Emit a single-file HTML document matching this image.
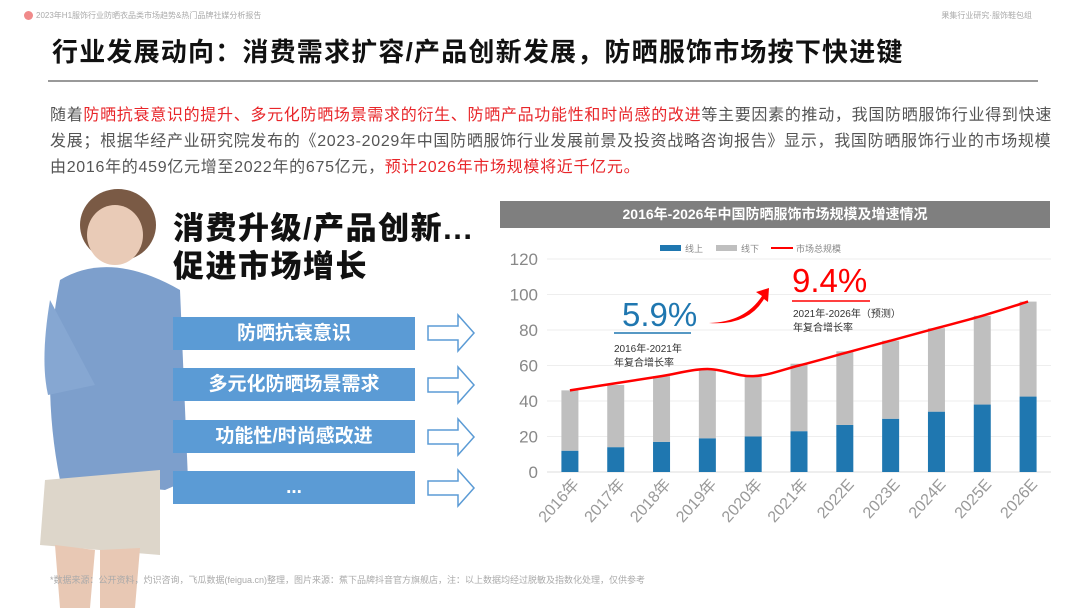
<!DOCTYPE html>
<html><head><meta charset="utf-8"><style>
body{margin:0;width:1080px;height:608px;background:#fff;position:relative;overflow:hidden;font-family:"Liberation Sans","Noto Sans CJK SC",sans-serif}
.abs{position:absolute}
.box{position:absolute;left:173px;width:242px;height:33px;background:#5b9bd5;color:#fff;font-weight:bold;font-size:19px;text-align:center;line-height:33px}
.red{color:#e8262a}
</style></head><body>
<div class="abs" style="left:24px;top:11px;width:9px;height:9px;border-radius:50%;background:#f08a8a"></div>
<div class="abs" style="left:36px;top:10px;font-size:8px;color:#aaa">2023年H1服饰行业防晒衣品类市场趋势&amp;热门品牌社媒分析报告</div>
<div class="abs" style="right:48px;top:10px;font-size:8px;color:#aaa">果集行业研究·服饰鞋包组</div>
<div class="abs" style="left:52px;top:32px;font-size:26px;letter-spacing:1.2px;font-weight:bold;color:#111;white-space:nowrap">行业发展动向：消费需求扩容/产品创新发展，防晒服饰市场按下快进键</div>
<div class="abs" style="left:48px;top:80px;width:990px;height:2px;background:#999"></div>
<div class="abs" style="left:50px;top:103px;font-size:16px;letter-spacing:0.7px;line-height:26px;color:#555;white-space:nowrap">随着<span class="red">防晒抗衰意识的提升、多元化防晒场景需求的衍生、防晒产品功能性和时尚感的改进</span>等主要因素的推动，我国防晒服饰行业得到快速<br>发展；根据华经产业研究院发布的《2023-2029年中国防晒服饰行业发展前景及投资战略咨询报告》显示，我国防晒服饰行业的市场规模<br>由2016年的459亿元增至2022年的675亿元，<span class="red">预计2026年市场规模将近千亿元。</span></div>

<svg class="abs" style="left:0;top:180px" width="200" height="428">
<ellipse cx="118" cy="45" rx="38" ry="36" fill="#7a5a45"/>
<ellipse cx="115" cy="55" rx="28" ry="30" fill="#e9cbb7"/>
<path d="M60 100 Q110 70 180 110 L188 300 L165 310 L60 300 Q40 200 60 100Z" fill="#7d9fcc"/>
<path d="M50 120 Q40 180 48 215 L95 205 Z" fill="#86a7d2"/>
<path d="M45 300 L160 290 L160 375 L40 365Z" fill="#ddd6ca"/>
<path d="M55 365 L95 370 L90 428 L60 428Z" fill="#e8c8b4"/>
<path d="M100 370 L140 368 L135 428 L100 428Z" fill="#e8c8b4"/>
</svg>
<div class="abs" style="left:173px;top:210px;font-size:31px;letter-spacing:1.5px;font-weight:900;line-height:38px;color:#111;white-space:nowrap">消费升级/产品创新...<br>促进市场增长</div>
<div class="box" style="top:317px">防晒抗衰意识</div>
<div class="box" style="top:368px">多元化防晒场景需求</div>
<div class="box" style="top:420px">功能性/时尚感改进</div>
<div class="box" style="top:471px">...</div>
<svg class="abs" style="left:426px;top:310px" width="52" height="200">
<g fill="#fff" stroke="#5b9bd5" stroke-width="1.5">
<path d="M2 16 L32 16 L32 5 L48 23 L32 41 L32 30 L2 30Z"/>
<path d="M2 68 L32 68 L32 57 L48 75 L32 93 L32 82 L2 82Z"/>
<path d="M2 120 L32 120 L32 109 L48 127 L32 145 L32 134 L2 134Z"/>
<path d="M2 171 L32 171 L32 160 L48 178 L32 196 L32 185 L2 185Z"/>
</g></svg>
<div class="abs" style="left:50px;top:573px;font-size:9px;color:#aaa">*数据来源：公开资料，灼识咨询，飞瓜数据(feigua.cn)整理，图片来源：蕉下品牌抖音官方旗舰店，注：以上数据均经过脱敏及指数化处理，仅供参考</div>

<div class="abs" style="left:500px;top:201px;width:550px;height:27px;background:#7f7f7f;color:#fff;font-weight:bold;font-size:14px;line-height:27px;text-align:center">2016年-2026年中国防晒服饰市场规模及增速情况</div>
<svg id="chart" class="abs" style="left:0;top:0" width="1080" height="608"></svg>
<script>
const categories=["2016年","2017年","2018年","2019年","2020年","2021年","2022E","2023E","2024E","2025E","2026E"];
const online=[12,14,17,19,20,23,26.5,30,34,38,42.5];
const offline=[34,35,37,39,34,38,41.5,44,47,50,53.5];
const total=[46,50,54,58,54,60,67,74,81,88,96];
const yTicks=[0,20,40,60,80,100,120];
const NS="http://www.w3.org/2000/svg";
const svg=document.getElementById('chart');
const x0=547,x1=1051,yb=472,yt=259;
const step=(x1-x0)/categories.length;
const xc=i=>x0+step*(i+0.5);
const y=v=>yb-(v/120)*(yb-yt);
function mk(t,a){const e=document.createElementNS(NS,t);for(const k in a)e.setAttribute(k,a[k]);svg.appendChild(e);return e;}
yTicks.forEach(v=>{
 const g=mk('line',{x1:x0,x2:x1,y1:y(v),y2:y(v),stroke:v?'#eee':'#ddd'});
 
 
 const t=mk('text',{x:538,y:y(v)+6,'text-anchor':'end','font-size':17,fill:'#888'});
 t.textContent=v;
 
 
});
categories.forEach((c,i)=>{
 const bw=17;
 const r1=mk('rect',{x:xc(i)-bw/2,y:y(online[i]),width:bw,height:yb-y(online[i]),fill:'#1f77b0'});
 
 
 const r2=mk('rect',{x:xc(i)-bw/2,y:y(online[i]+offline[i]),width:bw,height:y(online[i])-y(online[i]+offline[i]),fill:'#bfbfbf'});
 
 
 const t=mk('text',{transform:`translate(${xc(i)+10},${485}) rotate(-48)`,'text-anchor':'end','font-size':16,fill:'#999'});
 t.textContent=c;
 
 
});
let d='M'+xc(0)+' '+y(total[0]);
for(let i=1;i<total.length;i++){
 const p0=[xc(Math.max(i-2,0)),y(total[Math.max(i-2,0)])],p1=[xc(i-1),y(total[i-1])],p2=[xc(i),y(total[i])],p3=[xc(Math.min(i+1,total.length-1)),y(total[Math.min(i+1,total.length-1)])];
 const c1=[p1[0]+(p2[0]-p0[0])/6,p1[1]+(p2[1]-p0[1])/6],c2=[p2[0]-(p3[0]-p1[0])/6,p2[1]-(p3[1]-p1[1])/6];
 d+=` C${c1[0]} ${c1[1]} ${c2[0]} ${c2[1]} ${p2[0]} ${p2[1]}`;
}
const ln=mk('path',{d:d,fill:'none',stroke:'#ff0000','stroke-width':2.5,'stroke-linejoin':'round'});


const lg=[['#1f77b0','线上',660],['#bfbfbf','线下',716]];
lg.forEach(l=>{const r=mk('rect',{x:l[2],y:245,width:21,height:6,fill:l[0]});
const t=mk('text',{x:l[2]+25,y:252,'font-size':9,fill:'#888'});t.textContent=l[1];});
const ll=mk('line',{x1:771,x2:793,y1:248,y2:248,stroke:'red','stroke-width':2});
const lt=mk('text',{x:796,y:252,'font-size':9,fill:'#888'});lt.textContent='市场总规模';
function txt(s,a,n){const t=mk('text',a);t.textContent=s;return t;}
txt('5.9%',{x:622,y:326,'font-size':33,fill:'#1f77b0'},'cagr-2016-2021');
mk('line',{x1:614,x2:691,y1:333,y2:333,stroke:'#1f77b0','stroke-width':1.5});
txt('2016年-2021年',{x:614,y:352,'font-size':10,fill:'#333'},'cagr-label');
txt('年复合增长率',{x:614,y:366,'font-size':10,fill:'#333'},'cagr-label');
txt('9.4%',{x:792,y:292,'font-size':33,fill:'#ff0000'},'cagr-2021-2026');
mk('line',{x1:792,x2:870,y1:301,y2:301,stroke:'#ff0000','stroke-width':1.5});
txt('2021年-2026年（预测）',{x:793,y:317,'font-size':10,fill:'#333'},'cagr-label');
txt('年复合增长率',{x:793,y:331,'font-size':10,fill:'#333'},'cagr-label');
const ar=mk('path',{d:'M709 323 Q745 322 762 296 L756 292 L769 288 L768 302 L764 299 Q748 326 709 323Z',fill:'#ff0000'});


</script>
</body></html>
